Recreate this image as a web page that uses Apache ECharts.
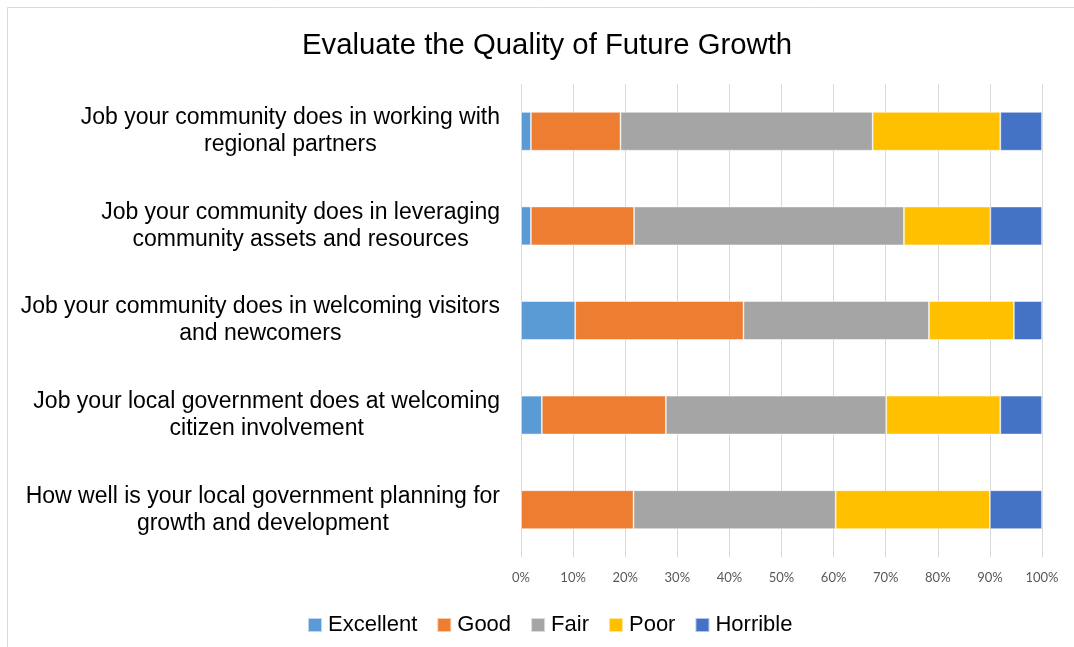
<!DOCTYPE html>
<html>
<head>
<meta charset="utf-8">
<script src="https://cdn.jsdelivr.net/npm/echarts@6/dist/echarts.min.js"></script>
<style>
  html, body { margin: 0; padding: 0; background: #fff; }
  #chart { width: 1074px; height: 647px; }
</style>
</head>
<body>
<div id="chart"></div>
<script>
// Survey questions (top to bottom)
const categories = [
  'Job your community does in working with\nregional partners',
  'Job your community does in leveraging\ncommunity assets and resources',
  'Job your community does in welcoming visitors\nand newcomers',
  'Job your local government does at welcoming\ncitizen involvement',
  'How well is your local government planning for\ngrowth and development'
];

// Share of responses per rating, in percent
const excellent = [1.9, 1.9, 10.4, 4.0, 0];
const good      = [17.2, 19.8, 32.3, 23.8, 21.6];
const fair      = [48.4, 51.8, 35.6, 42.3, 38.8];
const poor      = [24.5, 16.6, 16.3, 21.9, 29.6];
const horrible  = [8.0, 9.9, 5.4, 8.0, 10.0];

const ratingNames = ['Excellent', 'Good', 'Fair', 'Poor', 'Horrible'];
const ratingValues = [excellent, good, fair, poor, horrible];
const ratingColors = ['#5B9BD5', '#ED7D31', '#A5A5A5', '#FFC000', '#4472C4'];

const chart = echarts.init(document.getElementById('chart'));

const series = ratingNames.map((name, i) => ({
  name: name,
  type: 'bar',
  stack: 'total',
  barWidth: '41%',
  data: ratingValues[i],
  itemStyle: { color: ratingColors[i], borderColor: 'rgba(255,255,255,0.6)', borderWidth: 0.8 },
  emphasis: { disabled: true }
}));

chart.setOption({
  backgroundColor: '#fff',
  animation: false,
  graphic: [{
    type: 'rect',
    shape: { x: 7.5, y: 7.5, width: 1200, height: 800 },
    style: { fill: 'none', stroke: '#d9d9d9', lineWidth: 1 },
    silent: true
  }],
  title: {
    text: 'Evaluate the Quality of Future Growth',
    left: 297,
    top: 26,
    textStyle: { fontFamily: 'Liberation Sans', fontSize: 29.3, fontWeight: 'normal', color: '#000' }
  },
  legend: {
    data: ratingNames,
    top: 609,
    left: 302,
    icon: 'rect',
    itemWidth: 14,
    itemHeight: 14,
    itemGap: 19,
    textStyle: { fontFamily: 'Liberation Sans', fontSize: 22, color: '#000', padding: [0, 0, 0, 1] }
  },
  grid: { left: 521, right: 32, top: 84, bottom: 90 },
  xAxis: {
    type: 'value',
    min: 0,
    max: 100,
    interval: 10,
    axisLine: { show: false },
    axisTick: { show: false },
    splitLine: { show: true, lineStyle: { color: '#d9d9d9', width: 1 } },
    axisLabel: {
      formatter: '{value}%',
      margin: 14,
      fontFamily: 'Lato',
      fontSize: 13,
      color: '#595959'
    }
  },
  yAxis: {
    type: 'category',
    inverse: true,
    data: categories,
    axisLine: { show: false },
    axisTick: { show: false },
    axisLabel: {
      margin: 21,
      align: 'right',
      fontFamily: 'Liberation Sans',
      fontSize: 23,
      lineHeight: 27,
      color: '#000',
      formatter: v => v.split('\n').map(s => '{c|' + s + '}').join('\n'),
      rich: {
        c: { align: 'center', fontFamily: 'Liberation Sans', fontSize: 23, lineHeight: 27, color: '#000' }
      }
    }
  },
  series: series
});
</script>
</body>
</html>
